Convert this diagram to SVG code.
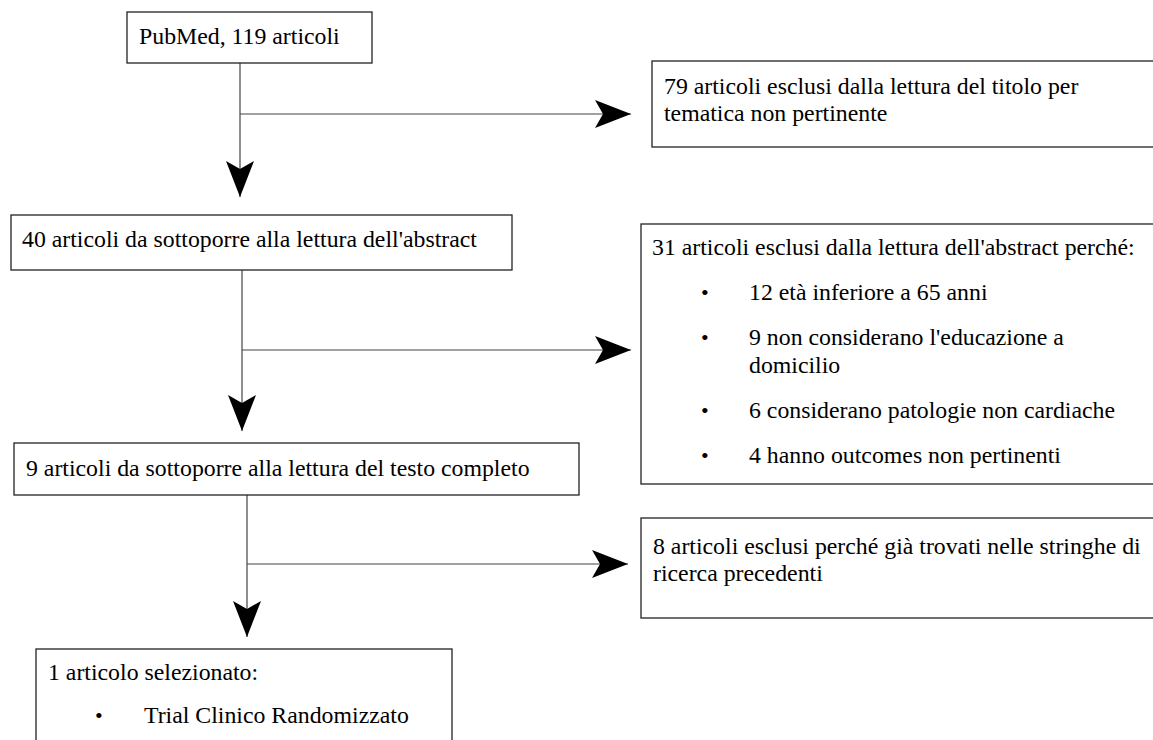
<svg xmlns="http://www.w3.org/2000/svg" width="1153" height="740" viewBox="0 0 1153 740">
  <defs>
    <style>
      .box { fill: #ffffff; stroke: #222222; stroke-width: 1.3; }
      .txt { font-family: "Liberation Serif", "Times New Roman", serif; font-size: 23.8px; fill: #000000; }
      .bul { font-family: "Liberation Serif", "Times New Roman", serif; font-size: 22px; fill: #000000; }
      .wire { fill: none; stroke: #444444; stroke-width: 1.2; }
    </style>
    <marker id="stealth" markerUnits="userSpaceOnUse" viewBox="0 0 36 28" refX="36" refY="14" markerWidth="36" markerHeight="28" orient="auto">
      <path d="M0,0 L36,14 L0,28 L8,14 Z" fill="#000000"/>
    </marker>
  </defs>

  <rect width="1153" height="740" fill="#ffffff"/>

  <!-- connectors -->
  <g id="connectors">
    <path class="wire" d="M240,63 V197" marker-end="url(#stealth)"/>
    <path class="wire" d="M240,114 H631" marker-end="url(#stealth)"/>
    <path class="wire" d="M242,270 V431" marker-end="url(#stealth)"/>
    <path class="wire" d="M242,350 H631" marker-end="url(#stealth)"/>
    <path class="wire" d="M247,495 V637" marker-end="url(#stealth)"/>
    <path class="wire" d="M247,564 H628" marker-end="url(#stealth)"/>
  </g>

  <!-- search source -->
  <g id="pubmed">
    <rect class="box" x="127" y="12" width="245" height="51"/>
    <text class="txt" x="139" y="44">PubMed, 119 articoli</text>
  </g>

  <!-- title screening exclusions -->
  <g id="excluded-title">
    <rect class="box" x="652" y="61" width="510" height="86"/>
    <text class="txt" x="664" y="94">79 articoli esclusi dalla lettura del titolo per</text>
    <text class="txt" x="664" y="121">tematica non pertinente</text>
  </g>

  <!-- abstract screening -->
  <g id="abstract">
    <rect class="box" x="11" y="215" width="501" height="55"/>
    <text class="txt" x="22" y="247">40 articoli da sottoporre alla lettura dell'abstract</text>
  </g>

  <!-- abstract exclusions -->
  <g id="excluded-abstract">
    <rect class="box" x="641" y="224" width="521" height="260"/>
    <text class="txt" x="652" y="255">31 articoli esclusi dalla lettura dell'abstract perché:</text>
    <text class="bul" x="701" y="300">•</text>
    <text class="txt" x="749" y="300">12 età inferiore a 65 anni</text>
    <text class="bul" x="701" y="345">•</text>
    <text class="txt" x="749" y="345">9 non considerano l'educazione a</text>
    <text class="txt" x="749" y="373">domicilio</text>
    <text class="bul" x="701" y="418">•</text>
    <text class="txt" x="749" y="418">6 considerano patologie non cardiache</text>
    <text class="bul" x="701" y="463">•</text>
    <text class="txt" x="749" y="463">4 hanno outcomes non pertinenti</text>
  </g>

  <!-- full-text screening -->
  <g id="fulltext">
    <rect class="box" x="14" y="443" width="565" height="52"/>
    <text class="txt" x="26" y="476">9 articoli da sottoporre alla lettura del testo completo</text>
  </g>

  <!-- full-text exclusions -->
  <g id="excluded-fulltext">
    <rect class="box" x="641" y="518" width="521" height="100"/>
    <text class="txt" x="653" y="554">8 articoli esclusi perché già trovati nelle stringhe di</text>
    <text class="txt" x="653" y="581">ricerca precedenti</text>
  </g>

  <!-- selected study -->
  <g id="selected">
    <rect class="box" x="36" y="649" width="416" height="110"/>
    <text class="txt" x="48" y="680">1 articolo selezionato:</text>
    <text class="bul" x="95" y="723">•</text>
    <text class="txt" x="144" y="723">Trial Clinico Randomizzato</text>
  </g>
</svg>
